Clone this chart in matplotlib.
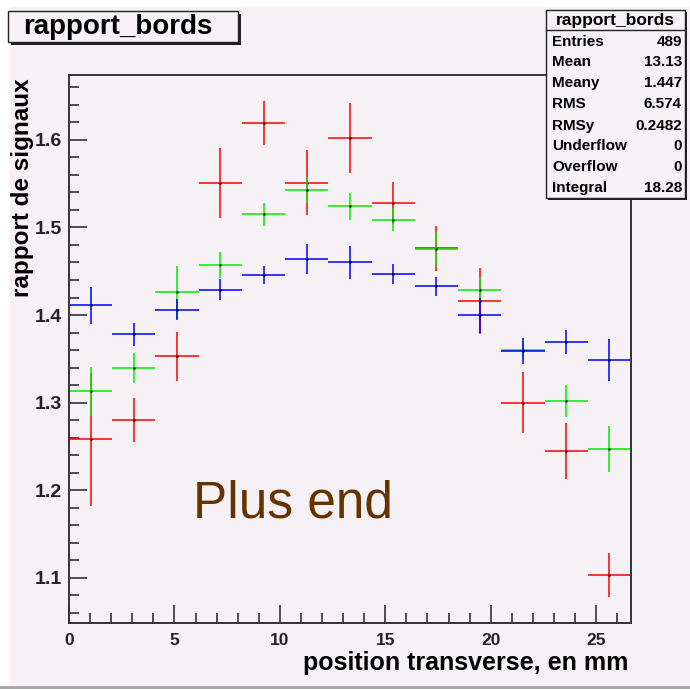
import matplotlib
matplotlib.use("Agg")
import matplotlib.pyplot as plt
from matplotlib.patches import Rectangle
import numpy as np

# Histogram binning: 13 bins over the transverse position range
x_min, x_max = 0.0, 26.65
n_bins = 13

# Per-bin signal ratios and their errors, one series per colour
red_vals = [1.258, 1.280, 1.353, 1.551, 1.619, 1.551, 1.602, 1.528, 1.476, 1.416, 1.300, 1.245, 1.103]
red_errs = [0.076, 0.025, 0.028, 0.040, 0.025, 0.037, 0.040, 0.024, 0.026, 0.038, 0.035, 0.032, 0.025]

green_vals = [1.313, 1.340, 1.426, 1.457, 1.515, 1.543, 1.524, 1.509, 1.475, 1.429, 1.360, 1.302, 1.247]
green_errs = [0.028, 0.017, 0.030, 0.015, 0.013, 0.015, 0.015, 0.013, 0.020, 0.014, 0.010, 0.018, 0.026]

blue_vals = [1.411, 1.378, 1.406, 1.429, 1.446, 1.464, 1.460, 1.447, 1.433, 1.400, 1.359, 1.369, 1.349]
blue_errs = [0.021, 0.013, 0.012, 0.012, 0.010, 0.017, 0.019, 0.011, 0.011, 0.020, 0.015, 0.014, 0.024]

# Statistics box entries
stats_title = "rapport_bords"
stats_labels = ["Entries", "Mean", "Meany", "RMS", "RMSy", "Underflow", "Overflow", "Integral"]
stats_values = ["489", "13.13", "1.447", "6.574", "0.2482", "0", "0", "18.28"]

bg = "#f5f1f5"
plt.rcParams["font.family"] = ["Liberation Sans", "DejaVu Sans"]

W, H = 690, 689
fig = plt.figure(figsize=(W / 100, H / 100), dpi=100, facecolor=bg)

# thin white margins and grey bottom border of the canvas
fig.patches.append(Rectangle((0, 1 - 7 / H), 1, 7 / H, transform=fig.transFigure,
                             facecolor="white", edgecolor="none", zorder=0))
fig.patches.append(Rectangle((0, 0), 10 / W, 1, transform=fig.transFigure,
                             facecolor="white", edgecolor="none", zorder=0))
fig.patches.append(Rectangle((0, 0), 1, 3 / H, transform=fig.transFigure,
                             facecolor="#a8a8a8", edgecolor="none", zorder=0))

ax_l, ax_r, ax_t, ax_b = 69, 631, 75, 623
ax = fig.add_axes([ax_l / W, 1 - ax_b / H, (ax_r - ax_l) / W, (ax_b - ax_t) / H])
ax.set_facecolor(bg)

edges = np.linspace(x_min, x_max, n_bins + 1)
centers = 0.5 * (edges[:-1] + edges[1:])
half = 0.5 * (edges[1] - edges[0])

for vals, errs, col in [(red_vals, red_errs, "#ff0000"),
                        (green_vals, green_errs, "#00ee00"),
                        (blue_vals, blue_errs, "#0000ff")]:
    ax.errorbar(centers, vals, xerr=half, yerr=errs, fmt="none",
                ecolor=col, elinewidth=1.3, capsize=0, alpha=0.85)
    ax.plot(centers, vals, linestyle="none", marker="s", ms=0.7,
            mfc="black", mec="black")

ax.set_xlim(x_min, x_max)
ax.set_ylim(1.0485, 1.674)

ax.set_xticks(np.arange(0, 26, 5))
ax.set_xticks(np.arange(0, 27, 1), minor=True)
ax.set_yticks(np.arange(1.1, 1.61, 0.1))
ax.set_yticks(np.arange(1.06, 1.67, 0.02), minor=True)
ax.set_xticklabels([f"{v:g}" for v in np.arange(0, 26, 5)])
ax.set_yticklabels([f"{v:.1f}" for v in np.arange(1.1, 1.61, 0.1)])

ax.tick_params(which="both", direction="in", top=False, right=False,
               colors="#222222", width=1.1)
ax.tick_params(which="major", length=13)
ax.tick_params(which="minor", length=7)
ax.tick_params(axis="x", which="major", pad=7, labelsize=12.5)
ax.tick_params(axis="y", which="major", pad=5, labelsize=14)
for lab in ax.get_xticklabels() + ax.get_yticklabels():
    lab.set_fontweight("bold")
for s in ax.spines.values():
    s.set_color("#333333")
    s.set_linewidth(1.4)

fig.text(628 / W, 1 - 663 / H, "position transverse, en mm", ha="right", va="center",
         fontsize=18, fontweight="bold")
fig.text(23 / W, 1 - 188 / H, "rapport de signaux", ha="center", va="center",
         rotation=90, fontsize=17.5, fontweight="bold")

fig.text(193 / W, 1 - 517 / H, "Plus end", ha="left", va="baseline",
         fontsize=37, color="#663300")

# framed box with drop shadow
def boxed(x0, y0, x1, y1, shadow=3):
    fig.patches.append(Rectangle((x0 / W + shadow / W, 1 - (y1 + shadow) / H),
                                 (x1 - x0) / W, (y1 - y0) / H, transform=fig.transFigure,
                                 facecolor="#222222", edgecolor="none", zorder=3))
    fig.patches.append(Rectangle((x0 / W, 1 - y1 / H), (x1 - x0) / W, (y1 - y0) / H,
                                 transform=fig.transFigure, facecolor=bg,
                                 edgecolor="#222222", linewidth=1.0, zorder=4))

boxed(8, 11, 238, 42)
fig.text(118 / W, 1 - 27 / H, "rapport_bords", ha="center", va="center",
         fontsize=20, fontweight="bold", zorder=5)

# statistics box
sx0, sy0, sx1, sy1 = 546, 10, 685, 198
boxed(sx0, sy0, sx1, sy1, shadow=2)
fig.add_artist(plt.Line2D([sx0 / W, sx1 / W], [1 - 30 / H, 1 - 30 / H],
                          color="#222222", lw=1.0, zorder=5))
fig.text((sx0 + sx1) / 2 / W, 1 - 20 / H, stats_title, ha="center", va="center",
         fontsize=12.5, fontweight="bold", zorder=5)
row_y = [42, 62, 83, 104, 126, 146, 167, 188]
for lab, val, yy in zip(stats_labels, stats_values, row_y):
    fig.text(552 / W, 1 - yy / H, lab, ha="left", va="center",
             fontsize=11, fontweight="bold", zorder=5)
    fig.text(682 / W, 1 - yy / H, val, ha="right", va="center",
             fontsize=11, fontweight="bold", zorder=5)

fig.savefig("out.png", dpi=100, facecolor=bg)
